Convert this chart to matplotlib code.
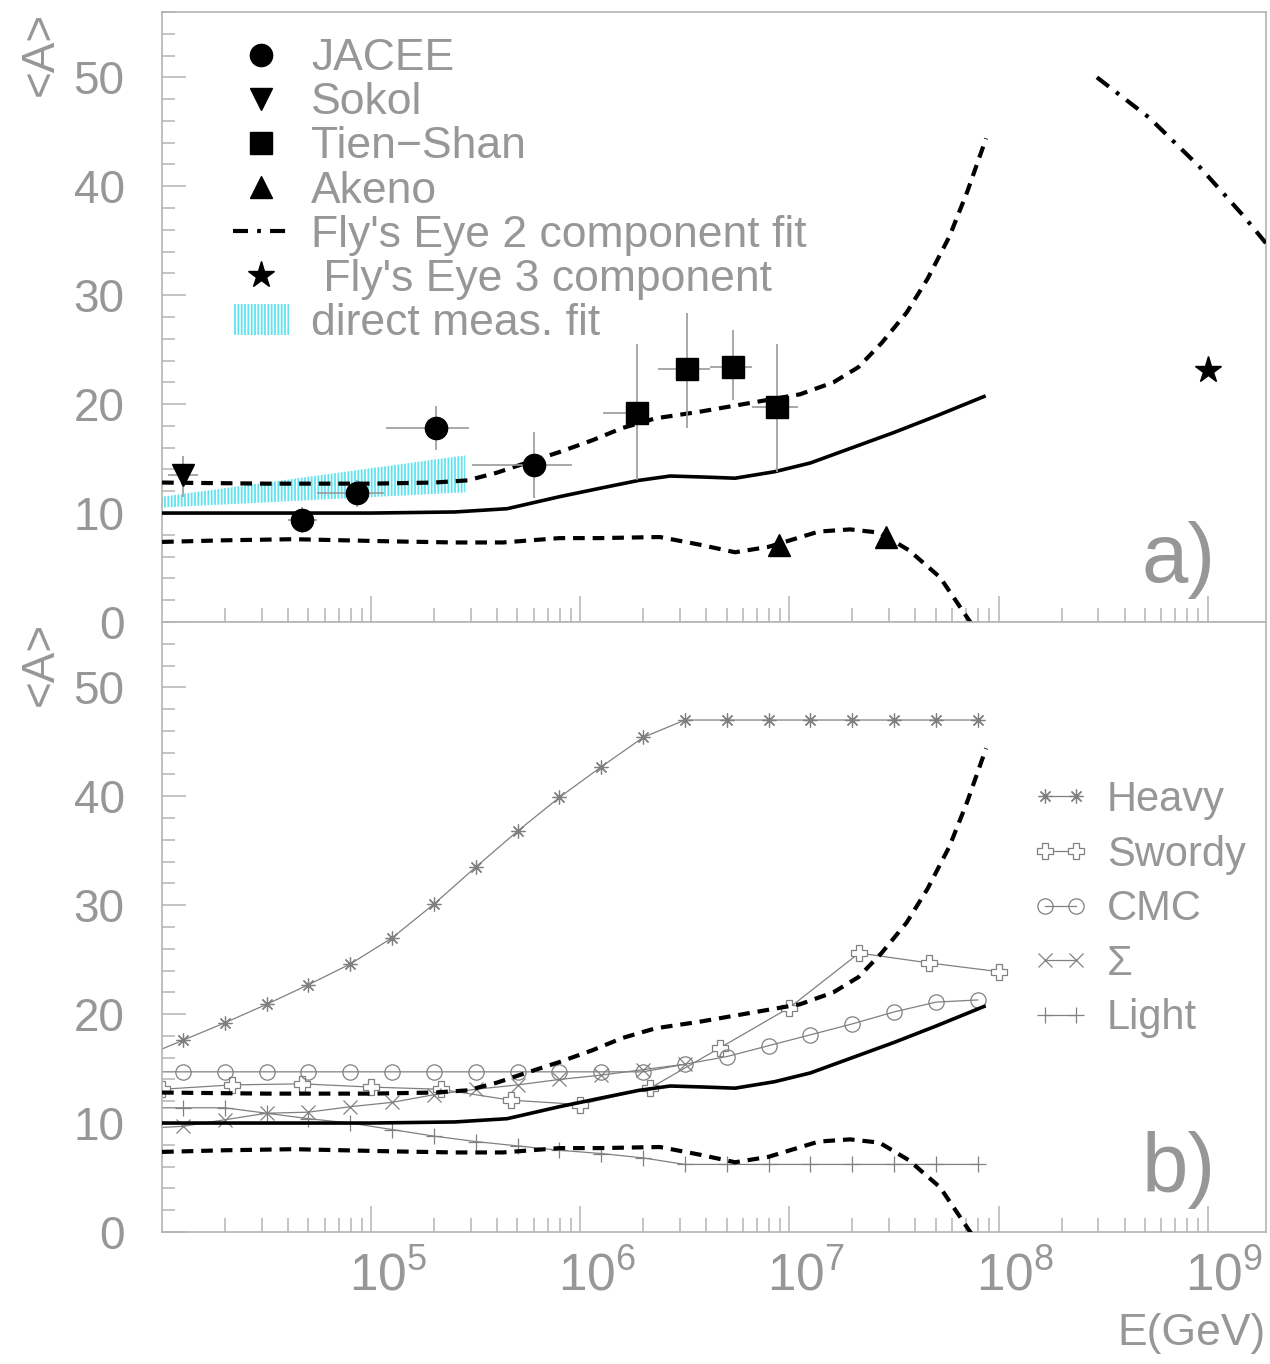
import numpy as np
import matplotlib.pyplot as plt
import matplotlib.patches as mpatches
from matplotlib.lines import Line2D
from matplotlib.ticker import FixedLocator, MultipleLocator, FuncFormatter
from matplotlib.transforms import ScaledTranslation

plt.rcParams['font.family'] = ['Liberation Sans', 'DejaVu Sans']
plt.rcParams['mathtext.fontset'] = 'custom'
plt.rcParams['mathtext.rm'] = 'Liberation Sans'
plt.rcParams['mathtext.it'] = 'Liberation Sans:italic'
plt.rcParams['hatch.linewidth'] = 1.3

GREY = '#979797'
AXIS = '#b4b4b4'
LINE = '#808080'
CYAN = '#5fe3ef'
DASH = (0, (2.8, 1.9))
DASHDOT = (0, (3.6, 2.2, 0.9, 2.2))

# model: mean <A> with +/- 1 sigma band (log10 E in GeV)
mean_logE = [4.0, 4.5, 5.0, 5.4, 5.65, 5.9, 6.1, 6.28, 6.43, 6.6, 6.74, 6.93,
             7.1, 7.3, 7.5, 7.7, 7.93]
mean_A = [10.0, 10.0, 10.0, 10.1, 10.4, 11.5, 12.3, 13.0, 13.4, 13.3, 13.2, 13.8,
          14.6, 16.0, 17.4, 18.9, 20.7]
upper_logE = [4.0, 4.5, 5.0, 5.3, 5.46, 5.6, 5.74, 5.9, 6.06, 6.2, 6.36, 6.57,
              6.81, 7.05, 7.21, 7.33, 7.44, 7.56, 7.66, 7.765, 7.85, 7.94]
upper_A = [12.8, 12.7, 12.7, 12.8, 13.0, 13.7, 14.6, 15.6, 16.7, 17.8, 18.7, 19.3,
           20.1, 20.9, 22.0, 23.4, 25.6, 28.4, 31.5, 35.4, 39.5, 44.4]
lower_logE = [4.0, 4.3, 4.63, 5.1, 5.4, 5.63, 5.9, 6.09, 6.38, 6.57, 6.74, 6.9,
              7.14, 7.29, 7.43, 7.57, 7.72, 7.85, 7.9]
lower_A = [7.35, 7.5, 7.6, 7.4, 7.3, 7.3, 7.7, 7.7, 7.8, 7.1, 6.4, 6.9,
           8.3, 8.5, 8.2, 6.6, 4.1, 0.4, -1.0]

# measurements
jacee_logE = [4.67, 4.93, 5.31, 5.78]
jacee_lo = [4.60, 4.74, 5.07, 5.48]
jacee_hi = [4.74, 5.06, 5.47, 5.96]
jacee_A = [9.4, 11.8, 17.8, 14.4]
jacee_err = [1.2, 1.2, 2.0, 3.0]

sokol_logE = [4.10]
sokol_lo = [4.03]
sokol_hi = [4.17]
sokol_A = [13.5]
sokol_err_dn = [2.0]
sokol_err_up = [1.7]

tien_logE = [6.27, 6.51, 6.73, 6.94]
tien_lo = [6.11, 6.37, 6.62, 6.82]
tien_hi = [6.33, 6.62, 6.82, 7.04]
tien_A = [19.2, 23.2, 23.4, 19.7]
tien_A_lo = [13.0, 17.8, 20.4, 13.8]
tien_A_hi = [25.5, 28.4, 26.8, 25.5]

akeno_logE = [6.95, 7.46]
akeno_A = [7.1, 7.8]

fe2_logE = [8.47, 8.72, 8.96, 9.17, 9.29]
fe2_A = [50.0, 46.3, 41.8, 37.3, 34.5]

fe3_logE = [9.0]
fe3_A = [23.1]

direct_logE = [4.0, 5.45]
direct_lo = [10.5, 11.9]
direct_hi = [11.5, 15.3]

# composition models (panel b)
grid_logE = [3.9, 4.1, 4.3, 4.5, 4.7, 4.9, 5.1, 5.3, 5.5, 5.7, 5.9, 6.1, 6.3, 6.5,
             6.7, 6.9, 7.1, 7.3, 7.5, 7.7, 7.9]
heavy_A = [16.0, 17.6, 19.2, 20.9, 22.7, 24.6, 27.0, 30.1, 33.5, 36.8, 39.9, 42.7,
           45.4, 47.0, 47.0, 47.0, 47.0, 47.0, 47.0, 47.0, 47.0]
cmc_A = [14.7, 14.7, 14.7, 14.7, 14.7, 14.7, 14.7, 14.7, 14.7, 14.7, 14.7, 14.7,
         14.7, 15.4, 16.1, 17.1, 18.1, 19.1, 20.2, 21.1, 21.3]
light_A = [11.4, 11.4, 11.4, 10.9, 10.4, 10.0, 9.4, 8.8, 8.3, 7.9, 7.5, 7.2,
           6.8, 6.2, 6.2, 6.2, 6.2, 6.2, 6.2, 6.2, 6.2]
sigma_logE = [3.9, 4.1, 4.3, 4.5, 4.7, 4.9, 5.1, 5.3, 5.5, 5.7, 5.9, 6.1, 6.3, 6.5]
sigma_A = [9.5, 9.7, 10.3, 10.9, 11.0, 11.5, 11.9, 12.6, 13.1, 13.5, 14.0, 14.4,
           14.9, 15.4]
swordy_logE = [4.0, 4.333, 4.667, 5.0, 5.333, 5.667, 6.0, 6.333, 6.667, 7.0,
               7.333, 7.667, 8.0]
swordy_A = [13.1, 13.5, 13.6, 13.3, 13.1, 12.1, 11.7, 13.2, 16.9, 20.6, 25.6,
            24.7, 23.9]


def E(logs):
    return 10 ** np.asarray(logs, dtype=float)


def draw_model(ax):
    ax.plot(E(mean_logE), mean_A, color='black', lw=2.6, zorder=3)
    ax.plot(E(upper_logE), upper_A, color='black', lw=3.0, ls=DASH, zorder=3)
    ax.plot(E(lower_logE), lower_A, color='black', lw=3.0, ls=DASH, zorder=3)


def style_axes(ax, label_letter):
    ax.set_xscale('log')
    ax.set_xlim(1e4, 1.9e9)
    ax.set_ylim(0, 56)
    for side in ['top', 'right', 'left', 'bottom']:
        ax.spines[side].set_color(AXIS)
        ax.spines[side].set_linewidth(1.2)
    ax.xaxis.set_major_locator(FixedLocator([1e5, 1e6, 1e7, 1e8, 1e9]))
    ax.xaxis.set_minor_locator(FixedLocator(
        [m * 10.0 ** d for d in range(4, 10) for m in range(2, 10)]))
    ax.yaxis.set_major_locator(FixedLocator([0, 10, 20, 30, 40, 50]))
    ax.yaxis.set_minor_locator(MultipleLocator(2))
    ax.tick_params(which='both', direction='in', color=AXIS, width=1.1,
                   top=False, right=False, labelcolor=GREY)
    ax.tick_params(axis='x', which='major', length=19)
    ax.tick_params(axis='x', which='minor', length=10)
    ax.tick_params(axis='y', which='major', length=17, labelsize=33, pad=27)
    ax.tick_params(axis='y', which='minor', length=9.5)
    ax.set_ylabel('<A>', loc='top', fontsize=33, color=GREY)
    ax.yaxis.set_label_coords(-0.11, 1.0)
    ax.yaxis.label.set_verticalalignment('center')
    ax.text(0.954, 0.066, label_letter, transform=ax.transAxes, ha='right',
            va='baseline', fontsize=60, color=GREY)


fig = plt.figure(figsize=(12.7, 13.64), dpi=100)
ax_a = fig.add_axes([0.1276, 0.5440, 0.8693, 0.4472])
ax_b = fig.add_axes([0.1276, 0.0968, 0.8693, 0.4472])

# ---- panel a ----
style_axes(ax_a, 'a)')
ax_a.tick_params(axis='x', labelbottom=False)

ax_a.fill_between(E(direct_logE), direct_lo, direct_hi, facecolor='none',
                  edgecolor=CYAN, hatch='|||||', linewidth=0, zorder=1)
draw_model(ax_a)
ax_a.plot(E(fe2_logE), fe2_A, color='black', lw=3.0, ls=DASHDOT, zorder=3)

err_kw = dict(ecolor='#9a9a9a', elinewidth=1.2, capsize=0, color='black',
              ls='none', zorder=4)
ax_a.errorbar(E(jacee_logE), jacee_A, yerr=jacee_err,
              xerr=[E(jacee_logE) - E(jacee_lo), E(jacee_hi) - E(jacee_logE)],
              marker='o', ms=16, **err_kw)
ax_a.errorbar(E(sokol_logE), sokol_A, yerr=[sokol_err_dn, sokol_err_up],
              xerr=[E(sokol_logE) - E(sokol_lo), E(sokol_hi) - E(sokol_logE)],
              marker='v', ms=16, **err_kw)
ax_a.errorbar(E(tien_logE), tien_A,
              yerr=[np.subtract(tien_A, tien_A_lo), np.subtract(tien_A_hi, tien_A)],
              xerr=[E(tien_logE) - E(tien_lo), E(tien_hi) - E(tien_logE)],
              marker='s', ms=16, **err_kw)
ax_a.plot(E(akeno_logE), akeno_A, marker='^', ms=16, color='black', ls='none', zorder=4)
ax_a.plot(E(fe3_logE), fe3_A, marker='*', ms=20, color='black', ls='none', zorder=4)

handles_a = [
    Line2D([], [], marker='o', ms=16, color='black', ls='none'),
    Line2D([], [], marker='v', ms=16, color='black', ls='none'),
    Line2D([], [], marker='s', ms=16, color='black', ls='none'),
    Line2D([], [], marker='^', ms=16, color='black', ls='none'),
    Line2D([], [], color='black', lw=3.0, ls=DASHDOT),
    Line2D([], [], marker='*', ms=20, color='black', ls='none'),
    mpatches.Patch(facecolor='none', edgecolor=CYAN, hatch='|||||', linewidth=0),
]
labels_a = ['JACEE', 'Sokol', 'Tien\u2212Shan', 'Akeno', "Fly's Eye 2 component fit",
            " Fly's Eye 3 component", 'direct meas. fit']
ax_a.legend(handles_a, labels_a, loc='upper left', bbox_to_anchor=(0.064, 0.957),
            borderaxespad=0, borderpad=0, frameon=False, fontsize=32,
            labelspacing=0.07, handlelength=1.27, handletextpad=0.49,
            numpoints=1, labelcolor=GREY)

# ---- panel b ----
style_axes(ax_b, 'b)')
ax_b.tick_params(axis='x', which='major', labelsize=37, pad=14)
ax_b.xaxis.set_major_formatter(FuncFormatter(
    lambda v, p: r'$10^{%d}$' % round(np.log10(v))))
shift = ScaledTranslation(12 / 72, 0, fig.dpi_scale_trans)
for lab in ax_b.get_xticklabels():
    lab.set_transform(lab.get_transform() + shift)
ax_b.set_xlabel('E(GeV)', loc='right', fontsize=32, color=GREY)
ax_b.xaxis.set_label_coords(1.0, -0.133)

series_kw = dict(color=LINE, lw=0.9, zorder=2)
h_heavy, = ax_b.plot(E(grid_logE), heavy_A, marker=(8, 2, 0), ms=10, mew=0.9,
                     label='Heavy', **series_kw)
h_swordy, = ax_b.plot(E(swordy_logE), swordy_A, marker='P', ms=11, mfc='white',
                      mew=0.9, label='Swordy', **series_kw)
h_cmc, = ax_b.plot(E(grid_logE), cmc_A, marker='o', ms=11, mfc='none', mew=0.9,
                   label='CMC', **series_kw)
h_sigma, = ax_b.plot(E(sigma_logE), sigma_A, marker='x', ms=10, mew=0.9,
                     label='\u03a3', **series_kw)
h_light, = ax_b.plot(E(grid_logE), light_A, marker='+', ms=12, mew=0.9,
                     label='Light', **series_kw)
draw_model(ax_b)

ax_b.legend(handles=[h_heavy, h_swordy, h_cmc, h_sigma, h_light], loc='upper left',
            bbox_to_anchor=(0.788, 0.741), borderaxespad=0, borderpad=0,
            frameon=False, fontsize=30, labelspacing=0.35, handlelength=1.35,
            handletextpad=0.45, numpoints=2, labelcolor=GREY)

fig.savefig('out.png', dpi=100)
